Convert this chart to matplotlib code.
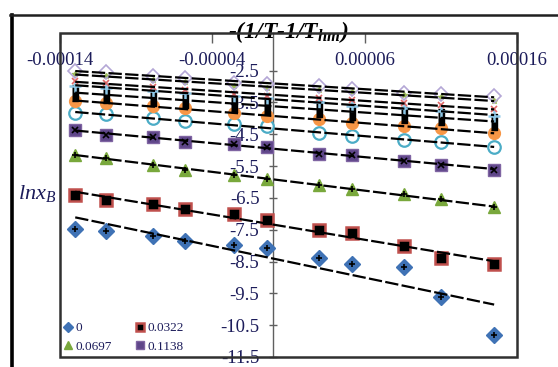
import numpy as np
import matplotlib.pyplot as plt
from matplotlib.lines import Line2D
from matplotlib.patches import Rectangle

plt.rcParams['font.family'] = 'Liberation Serif'
plt.rcParams['mathtext.fontset'] = 'custom'
plt.rcParams['mathtext.rm'] = 'Liberation Serif'
plt.rcParams['mathtext.it'] = 'Liberation Serif:italic'
plt.rcParams['mathtext.bf'] = 'Liberation Serif:bold'
plt.rcParams['mathtext.bfit'] = 'Liberation Serif:italic:bold'

# x values: -(1/T - 1/Thm)
x_vals = [-0.00013, -0.00011, -0.000079, -0.000058, -0.000026, -0.000004,
          0.00003, 0.000052, 0.000086, 0.00011, 0.000145]

# ln xB for each cosolvent fraction
lnx_0 = [-7.47, -7.53, -7.69, -7.85, -7.98, -8.07, -8.39, -8.58, -8.68, -9.60, -10.81]
lnx_0322 = [-6.42, -6.58, -6.70, -6.86, -7.02, -7.21, -7.50, -7.60, -8.01, -8.39, -8.58]
lnx_0697 = [-5.14, -5.24, -5.46, -5.62, -5.78, -5.91, -6.10, -6.23, -6.39, -6.54, -6.80]
lnx_1138 = [-4.38, -4.51, -4.60, -4.73, -4.82, -4.89, -5.11, -5.14, -5.33, -5.46, -5.62]
lnx_s5 = [-3.84, -3.87, -4.00, -4.09, -4.19, -4.25, -4.47, -4.57, -4.67, -4.76, -4.89]
lnx_s6 = [-3.46, -3.52, -3.61, -3.68, -3.84, -3.93, -4.03, -4.16, -4.25, -4.32, -4.47]
lnx_s7 = [-3.20, -3.26, -3.36, -3.42, -3.55, -3.61, -3.71, -3.81, -3.90, -3.96, -4.12]
lnx_s8 = [-2.98, -3.04, -3.14, -3.20, -3.30, -3.36, -3.49, -3.61, -3.68, -3.77, -3.93]
lnx_s9 = [-2.82, -2.88, -3.01, -3.11, -3.23, -3.30, -3.36, -3.42, -3.52, -3.59, -3.71]
lnx_s10 = [-2.60, -2.66, -2.79, -2.85, -2.98, -3.04, -3.11, -3.17, -3.26, -3.33, -3.46]
lnx_s11 = [-2.50, -2.56, -2.66, -2.72, -2.88, -2.91, -2.98, -3.07, -3.20, -3.23, -3.30]

legend_labels = ['0', '0.0322', '0.0697', '0.1138']

x_ticks = [-0.00014, -0.00004, 0.00006, 0.00016]
x_tick_labels = ['-0.00014', '-0.00004', '0.00006', '0.00016']
y_ticks = [-2.5, -3.5, -4.5, -5.5, -6.5, -7.5, -8.5, -9.5, -10.5, -11.5]
y_tick_labels = ['-2.5', '-3.5', '-4.5', '-5.5', '-6.5', '-7.5', '-8.5', '-9.5', '-10.5', '-11.5']

txt_color = '#1c1c5a'
tall_box = [(-0.42, -1), (0.42, -1), (0.42, 1), (-0.42, 1)]

all_series = [lnx_0, lnx_0322, lnx_0697, lnx_1138, lnx_s5, lnx_s6,
              lnx_s7, lnx_s8, lnx_s9, lnx_s10, lnx_s11]
styles = [
    dict(marker='D', ms=8, mfc='#3f72b5', mec='#3f72b5'),
    dict(marker='s', ms=9, mfc='black', mec='#c0504d', mew=1.8),
    dict(marker='^', ms=9, mfc='#79a83c', mec='#79a83c'),
    dict(marker='s', ms=9, mfc='#5e4689', mec='#7f64a2'),
    dict(marker='o', ms=9, mfc='white', mec='#4bacc6', mew=1.6),
    dict(marker='o', ms=8.5, mfc='#f79646', mec='#f79646'),
    dict(marker=tall_box, ms=11, mfc='black', mec='black'),
    dict(marker='+', ms=9, mfc='none', mec='#8ec8e8', mew=1.8),
    dict(marker='x', ms=4, mfc='none', mec='#e06666', mew=1.2),
    dict(marker='*', ms=4, mfc='#9bbb59', mec='#9bbb59'),
    dict(marker='D', ms=7, mfc='none', mec='#b4a7d6', mew=1.2),
]
# small black inner marks seen on some markers
inner = {0: '+', 2: '+', 3: 'x'}

fig = plt.figure(figsize=(5.58, 3.67), dpi=100)
ax = fig.add_axes([60 / 558, 1 - 357 / 367, 457 / 558, 324 / 367])

x = np.array(x_vals)
handles = []
for i, (ys, st) in enumerate(zip(all_series, styles)):
    ys = np.array(ys)
    h, = ax.plot(x, ys, linestyle='none', zorder=3, **st)
    if i in inner:
        ax.plot(x, ys, linestyle='none', marker=inner[i], ms=4, mec='black',
                mew=1.2, zorder=4)
    k, b = np.polyfit(x, ys, 1)
    ax.plot([x[0], x[-1]], [k * x[0] + b, k * x[-1] + b], color='black',
            lw=1.6, linestyle=(0, (6, 1.5)), zorder=5)
    if i < len(legend_labels):
        h.set_label(legend_labels[i])
        handles.append(h)

ax.set_xlim(-0.00014, 0.00016)
ax.set_ylim(-11.5, -1.32)

# y axis crosses at x = 0, frame drawn separately
for s in ['top', 'right', 'bottom']:
    ax.spines[s].set_visible(False)
ax.spines['left'].set_position(('data', 0))
ax.spines['left'].set_color('#606060')
ax.spines['left'].set_linewidth(1.0)
ax.add_patch(Rectangle((0, 0), 1, 1, transform=ax.transAxes, fill=False,
                       edgecolor='#303030', lw=1.8, zorder=6, clip_on=False))

ax.set_yticks(y_ticks)
ax.set_yticklabels(y_tick_labels)
ax.tick_params(axis='y', direction='inout', length=6, width=1, color='#606060',
               labelsize=13.5, labelcolor=txt_color, pad=7)

ax.set_xticks(x_ticks)
ax.set_xticklabels(x_tick_labels)
ax.tick_params(axis='x', top=True, bottom=False, labeltop=True, labelbottom=False,
               direction='in', length=7, width=1, color='#606060',
               labelsize=13.5, labelcolor=txt_color, pad=-26)

ax.xaxis.set_label_position('top')
ax.set_xlabel(r'-(1/T-1/T$_{\mathbfit{hm}}$)', fontsize=17, fontweight='bold',
              style='italic', color='black')
ax.xaxis.set_label_coords(0.5, 0.985)

ax.set_ylabel(r'lnx$_B$', fontsize=16, style='italic', color=txt_color,
              rotation=0, ha='left', va='center')
ax.yaxis.set_label_coords(-0.092, 0.506)

# legend filled row by row like the reference
order = [0, 2, 1, 3]
leg = ax.legend(handles=[handles[j] for j in order], ncol=2, loc='lower left',
                frameon=False, fontsize=9.5, markerscale=0.6, handlelength=0.6,
                handletextpad=0.3, columnspacing=1.8, labelspacing=0.5,
                borderaxespad=0.2, borderpad=0.1)
for t in leg.get_texts():
    t.set_color(txt_color)

# outer border of the figure box
fig.add_artist(Line2D([11.5 / 558, 11.5 / 558], [0, 1 - 15 / 367],
                      transform=fig.transFigure, color='black', lw=2.6))
fig.add_artist(Line2D([10 / 558, 1], [1 - 15 / 367, 1 - 15 / 367],
                      transform=fig.transFigure, color='#202020', lw=1.8))

plt.savefig('out.png', dpi=100)
